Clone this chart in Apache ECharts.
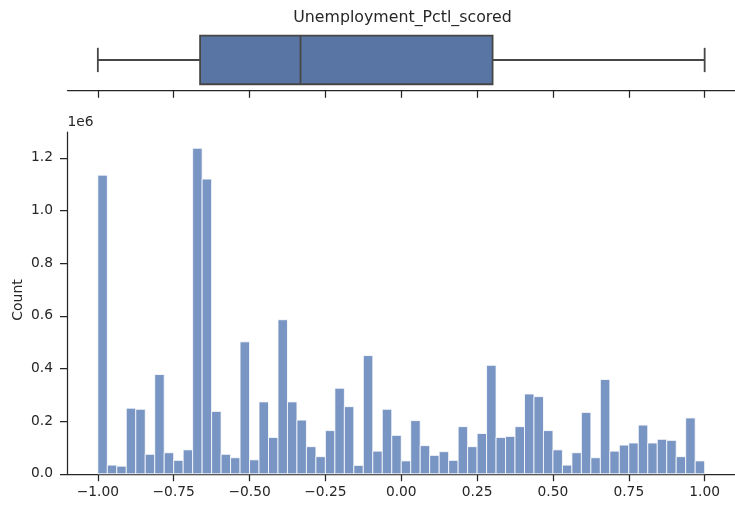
<!DOCTYPE html>
<html><head><meta charset="utf-8">
<script src="https://cdn.jsdelivr.net/npm/echarts@6/dist/echarts.min.js"></script>
<style>html,body{margin:0;padding:0;background:#fff}#c{width:735px;height:508px}</style>
</head><body><div id="c"></div>
<script>
const chartTitle = 'Unemployment_Pctl_scored';
const yName = 'Count';
const binStart = -1.0;
const binEnd = 1.0;
const counts = [1134000, 33000, 29000, 249000, 245000, 74000, 377000, 80000, 51000, 91000,
  1236000, 1119000, 237000, 74000, 61000, 501000, 53000, 273000, 138000, 585000,
  273000, 204000, 103000, 65000, 164000, 325000, 255000, 32000, 449000, 86000,
  245000, 146000, 49000, 202000, 107000, 70000, 84000, 51000, 179000, 103000,
  153000, 412000, 138000, 142000, 179000, 303000, 293000, 164000, 91000, 33000,
  80000, 233000, 61000, 358000, 86000, 109000, 117000, 185000, 117000, 131000,
  127000, 65000, 212000, 49000];
const boxStats = [-1.0, -0.663, -0.332, 0.301, 1.0]; // whisker low, q1, median, q3, whisker high
const xTicks = [-1, -0.75, -0.5, -0.25, 0, 0.25, 0.5, 0.75, 1];
const yTicks = [0, 200000, 400000, 600000, 800000, 1000000, 1200000];

const nb = counts.length;
const bw = (binEnd - binStart) / nb;
const histData = counts.map((c, i) => [binStart + i * bw, binStart + (i + 1) * bw, c]);
const maxCount = Math.max.apply(null, counts);

const FONT = 'DejaVu Sans';
const TXT = '#262626';
const LINE = { color: TXT, width: 1.25 };

const chart = echarts.init(document.getElementById('c'), null, { renderer: 'canvas' });
const fmtX = v => (v < 0 ? '\u2212' : '') + Math.abs(v).toFixed(2);

chart.setOption({
  animation: false,
  backgroundColor: '#fff',
  graphic: [
    { type: 'text', x: 402.5, y: 18,
      style: { text: chartTitle, font: '15.8px "DejaVu Sans"', fill: TXT, align: 'center', verticalAlign: 'middle' } },
    { type: 'text', x: 18.5, y: 300, rotation: Math.PI / 2,
      style: { text: yName, font: '14px "DejaVu Sans"', fill: TXT, align: 'center', verticalAlign: 'middle' } }
  ],
  grid: [
    { left: 67.5, width: 670, top: 29.6, height: 60.75 },
    { left: 67.5, width: 670, top: 132, height: 341.8 }
  ],
  xAxis: [
    { gridIndex: 0, type: 'value', min: -1.1, max: 1.1,
      axisLine: { show: true, onZero: false, lineStyle: LINE },
      axisTick: { show: true, length: 7.5, lineStyle: LINE, customValues: xTicks },
      axisLabel: { show: false }, splitLine: { show: false } },
    { gridIndex: 1, type: 'value', min: -1.1, max: 1.1,
      axisLine: { show: true, onZero: false, lineStyle: LINE },
      axisTick: { show: true, length: 7.5, lineStyle: LINE, customValues: xTicks },
      axisLabel: { show: true, customValues: xTicks, formatter: fmtX, color: TXT,
        fontFamily: FONT, fontSize: 13.8, margin: 12 },
      splitLine: { show: false } }
  ],
  yAxis: [
    { gridIndex: 0, type: 'value', min: -0.5, max: 0.5, show: false },
    { gridIndex: 1, type: 'value', min: 0, max: maxCount * 1.05,
      name: '1e6', nameLocation: 'end', nameGap: 3,
      nameTextStyle: { color: TXT, fontFamily: FONT, fontSize: 13.8, align: 'left', verticalAlign: 'bottom' },
      axisLine: { show: true, onZero: false, lineStyle: LINE },
      axisTick: { show: true, length: 7.5, lineStyle: LINE, customValues: yTicks },
      axisLabel: { show: true, customValues: yTicks, formatter: v => (v / 1e6).toFixed(1),
        color: TXT, fontFamily: FONT, fontSize: 13.8, margin: 14.5 },
      splitLine: { show: false } }
  ],
  series: [
    {
      type: 'custom', xAxisIndex: 0, yAxisIndex: 0,
      data: [boxStats],
      encode: { x: [0, 1, 2, 3, 4] },
      renderItem: function (params, api) {
        const lo = api.value(0), q1 = api.value(1), md = api.value(2), q3 = api.value(3), hi = api.value(4);
        const yc = api.coord([lo, 0])[1];
        const top = api.coord([lo, 0.4])[1], bot = api.coord([lo, -0.4])[1];
        const ctop = api.coord([lo, 0.2])[1], cbot = api.coord([lo, -0.2])[1];
        const xlo = api.coord([lo, 0])[0], x1 = api.coord([q1, 0])[0], xm = api.coord([md, 0])[0],
              x3 = api.coord([q3, 0])[0], xhi = api.coord([hi, 0])[0];
        const ls = { stroke: '#464646', lineWidth: 1.8 };
        return { type: 'group', children: [
          { type: 'line', shape: { x1: xlo, y1: yc, x2: x1, y2: yc }, style: ls },
          { type: 'line', shape: { x1: x3, y1: yc, x2: xhi, y2: yc }, style: ls },
          { type: 'line', shape: { x1: xlo, y1: ctop, x2: xlo, y2: cbot }, style: ls },
          { type: 'line', shape: { x1: xhi, y1: ctop, x2: xhi, y2: cbot }, style: ls },
          { type: 'rect', shape: { x: x1, y: top, width: x3 - x1, height: bot - top },
            style: { fill: '#5875a4', stroke: '#464646', lineWidth: 1.8 } },
          { type: 'line', shape: { x1: xm, y1: top, x2: xm, y2: bot }, style: ls }
        ] };
      }
    },
    {
      type: 'custom', xAxisIndex: 1, yAxisIndex: 1,
      data: histData,
      encode: { x: [0, 1], y: 2 },
      renderItem: function (params, api) {
        const p0 = api.coord([api.value(0), api.value(2)]);
        const p1 = api.coord([api.value(1), 0]);
        return { type: 'rect',
          shape: { x: p0[0], y: p0[1], width: p1[0] - p0[0], height: p1[1] - p0[1] },
          style: { fill: '#7995c4', stroke: '#ffffff', lineWidth: 0.8 } };
      }
    }
  ]
});
</script></body></html>
